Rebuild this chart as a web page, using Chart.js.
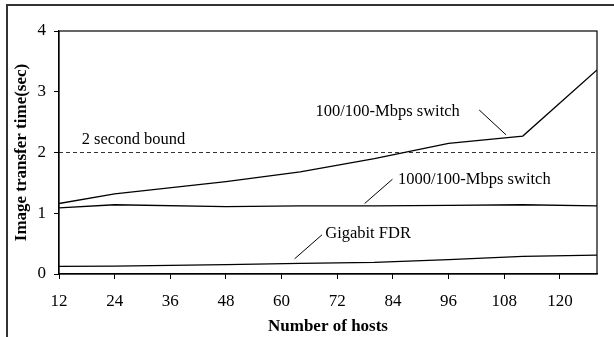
<!DOCTYPE html>
<html>
<head>
<meta charset="utf-8">
<script src="https://cdn.jsdelivr.net/npm/chart.js@4/dist/chart.umd.min.js"></script>
<style>
  html, body { margin: 0; padding: 0; background: #fff; overflow: hidden; }
  canvas { display: block; }
</style>
</head>
<body>
<canvas id="c" width="614" height="337"></canvas>
<script>
const hosts = [12, 24, 48, 64, 80, 96, 112, 128];
const switch100 = [1.16, 1.32, 1.52, 1.68, 1.90, 2.15, 2.27, 3.36];
const switch1000 = [1.09, 1.14, 1.11, 1.12, 1.12, 1.13, 1.14, 1.12];
const gigabitFDR = [0.125, 0.13, 0.153, 0.175, 0.19, 0.235, 0.29, 0.31];
const boundHosts = [12, 128];
const boundValues = [2, 2];
const yTicks = [0, 1, 2, 3, 4];
const xTickStep = 12;

const seriesNames = ['100/100-Mbps switch', '1000/100-Mbps switch', 'Gigabit FDR', '2 second bound'];

// annotation labels and leader lines, in data coordinates
const labels = [
  { text: '2 second bound', x: 16.9, y: 2.14 },
  { text: '100/100-Mbps switch', x: 67.3, y: 2.60 },
  { text: '1000/100-Mbps switch', x: 85.1, y: 1.48 },
  { text: 'Gigabit FDR', x: 69.4, y: 0.59 }
];
const leaders = [
  { x1: 102.6, y1: 2.70, x2: 108.4, y2: 2.29 },
  { x1: 83.9, y1: 1.56, x2: 77.9, y2: 1.16 },
  { x1: 68.7, y1: 0.645, x2: 62.8, y2: 0.25 }
];

const pts = (xs, ys) => xs.map((x, i) => ({ x: x, y: ys[i] }));

const frame = {
  id: 'frame',
  beforeDraw(chart) {
    const ctx = chart.ctx;
    ctx.save();
    ctx.fillStyle = '#fff';
    ctx.fillRect(0, 0, chart.width, chart.height);
    ctx.strokeStyle = '#333';
    ctx.lineWidth = 2;
    ctx.beginPath();
    ctx.moveTo(7, chart.height + 2);
    ctx.lineTo(7, 5);
    ctx.lineTo(chart.width + 2, 5);
    ctx.stroke();
    ctx.restore();
  }
};

const annot = {
  id: 'annot',
  afterDatasetsDraw(chart) {
    const { ctx, chartArea: a, scales: { x, y } } = chart;
    ctx.save();
    ctx.strokeStyle = '#000';
    ctx.lineWidth = 1.2;
    ctx.strokeRect(a.left, a.top, a.right - a.left, a.bottom - a.top);
    ctx.lineWidth = 1;
    leaders.forEach(l => {
      ctx.beginPath();
      ctx.moveTo(x.getPixelForValue(l.x1), y.getPixelForValue(l.y1));
      ctx.lineTo(x.getPixelForValue(l.x2), y.getPixelForValue(l.y2));
      ctx.stroke();
    });
    ctx.fillStyle = '#000';
    ctx.font = '16.5px "Liberation Serif"';
    ctx.textAlign = 'left';
    ctx.textBaseline = 'alphabetic';
    labels.forEach(t => {
      ctx.fillText(t.text, x.getPixelForValue(t.x), y.getPixelForValue(t.y));
    });
    ctx.restore();
  }
};

new Chart(document.getElementById('c'), {
  type: 'scatter',
  data: {
    datasets: [
      { label: seriesNames[0], data: pts(hosts, switch100), showLine: true, borderColor: '#000', borderWidth: 1.3, pointRadius: 0 },
      { label: seriesNames[1], data: pts(hosts, switch1000), showLine: true, borderColor: '#000', borderWidth: 1.3, pointRadius: 0 },
      { label: seriesNames[2], data: pts(hosts, gigabitFDR), showLine: true, borderColor: '#000', borderWidth: 1.3, pointRadius: 0 },
      { label: seriesNames[3], data: pts(boundHosts, boundValues), showLine: true, borderColor: '#333', borderWidth: 1, borderDash: [4, 3], pointRadius: 0 }
    ]
  },
  options: {
    responsive: false,
    animation: false,
    layout: { padding: { top: 31, right: 17, left: 0, bottom: 0 } },
    plugins: { legend: { display: false }, tooltip: { enabled: false } },
    scales: {
      x: {
        type: 'linear',
        min: 12, max: 128,
        afterFit(s) { s.height = 63; },
        border: { display: true, color: '#000', width: 1.2 },
        grid: { display: true, drawOnChartArea: false, drawTicks: true, tickLength: 5, color: '#000' },
        ticks: { stepSize: xTickStep, includeBounds: false, color: '#000', padding: 12, font: { family: 'Liberation Serif', size: 17 } },
        title: { display: true, text: 'Number of hosts', color: '#000', padding: { top: 0, bottom: 0 }, font: { family: 'Liberation Serif', size: 17, weight: 'bold' } }
      },
      y: {
        min: 0, max: 4,
        afterFit(s) { s.width = 59; },
        afterBuildTicks(s) { s.ticks = yTicks.map(v => ({ value: v })); },
        border: { display: true, color: '#000', width: 1.2 },
        grid: { display: true, drawOnChartArea: false, drawTicks: true, tickLength: 5, color: '#000' },
        ticks: { color: '#000', padding: 8, font: { family: 'Liberation Serif', size: 17 } },
        title: { display: true, text: 'Image transfer time(sec)', color: '#000', padding: { top: 11, bottom: 0 }, font: { family: 'Liberation Serif', size: 17, weight: 'bold' } }
      }
    }
  },
  plugins: [frame, annot]
});
</script>
</body>
</html>
